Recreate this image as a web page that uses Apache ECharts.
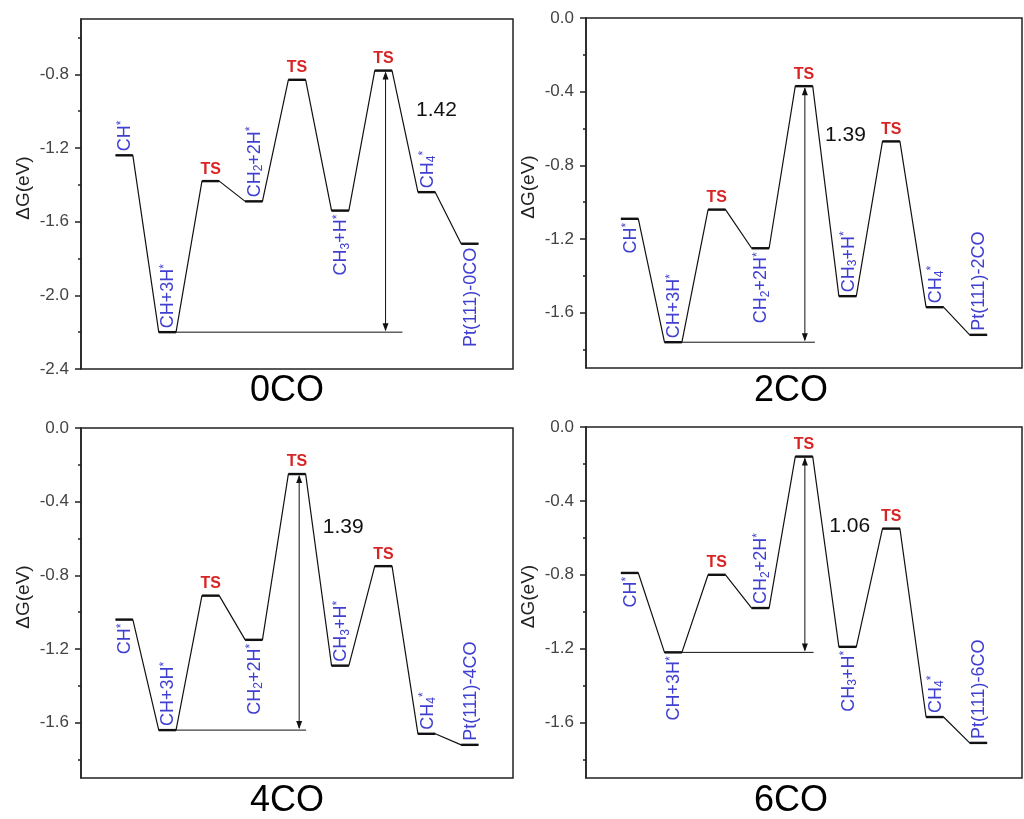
<!DOCTYPE html>
<html><head><meta charset="utf-8">
<script src="https://cdn.jsdelivr.net/npm/echarts@6/dist/echarts.min.js"></script>
<style>html,body{margin:0;padding:0;background:#fff}#c{width:1024px;height:819px}</style>
</head><body><div id="c"></div>
<script>
// ---------------- data ----------------
const panelNames = ['0CO', '2CO', '4CO', '6CO'];
const states = ['CH*', 'CH+3H*', 'TS', 'CH2+2H*', 'TS', 'CH3+H*', 'TS', 'CH4*', 'Pt(111)-'];
const g0CO = [-1.24, -2.20, -1.38, -1.49, -0.83, -1.54, -0.78, -1.44, -1.72];
const g2CO = [-1.09, -1.76, -1.04, -1.25, -0.37, -1.51, -0.67, -1.57, -1.72];
const g4CO = [-1.04, -1.64, -0.91, -1.15, -0.25, -1.29, -0.75, -1.66, -1.72];
const g6CO = [-0.79, -1.22, -0.80, -0.98, -0.16, -1.19, -0.55, -1.57, -1.71];
const barrierText = ['1.42', '1.39', '1.39', '1.06'];
const barrierFrom = [1, 1, 1, 1];
const barrierTo = [6, 4, 4, 4];
const yMin = [-2.4, -1.9, -1.9, -1.9];
const yMax = [-0.5, 0, 0, 0];
const majorTicks0CO = [-2.4, -2.0, -1.6, -1.2, -0.8];
const minorTicks0CO = [-2.2, -1.8, -1.4, -1.0, -0.6];
const majorTicksOther = [-1.6, -1.2, -0.8, -0.4, 0.0];
const minorTicksOther = [-1.8, -1.4, -1.0, -0.6, -0.2];
const yName = 'ΔG(eV)';

// ---------------- layout ----------------
const energies = [g0CO, g2CO, g4CO, g6CO];
const grids = [
  {left: 81, top: 19, width: 432, height: 350},
  {left: 586, top: 18, width: 436, height: 350},
  {left: 81, top: 428, width: 432, height: 350},
  {left: 586, top: 427, width: 436, height: 351}
];
const titleCenters = [[287, 373], [791, 373], [287, 783], [791, 783]];
// side of each species label: u = above level, d = below level (TS handled separately)
const labelSide = [
  ['u', 'u', '', 'u', '', 'd', '', 'u', 'd'],
  ['d', 'u', '', 'd', '', 'u', '', 'u', 'u'],
  ['d', 'u', '', 'd', '', 'u', '', 'u', 'u'],
  ['d', 'd', '', 'u', '', 'd', '', 'u', 'u']
];
const baseEnd = [7.44, 5.25, 5.21, 5.22];
const arrowDX = [0.05, 0.02, 0.05, 0.02];
const barrierPos = [[8.23, -0.995], [5.95, -0.636], [6.07, -0.537], [6.05, -0.538]];
const HALF = 0.2;
const BLUE = '#3f3fd0', RED = '#d82424', INK = '#111';
const FONT = '"Liberation Sans", Arial, sans-serif';

function richName(s) {
  return s.replace(/CH(\d)/g, 'CH{sub|$1}').replace(/\*/g, '{sup|*}');
}

const chart = echarts.init(document.getElementById('c'), null, {renderer: 'canvas'});
const option = {
  backgroundColor: '#fff',
  animation: false,
  title: [], grid: [], xAxis: [], yAxis: [], series: []
};

panelNames.forEach((pn, p) => {
  const e = energies[p];
  const names = states.map((s, i) => i === states.length - 1 ? s + pn : s);
  option.title.push({
    text: pn, left: titleCenters[p][0], top: titleCenters[p][1], textAlign: 'center', padding: 0,
    textStyle: {fontFamily: FONT, fontSize: 36, fontWeight: 'normal', color: '#000'}
  });
  option.grid.push(Object.assign({show: true, borderColor: '#222', borderWidth: 1.5, backgroundColor: 'transparent'}, grids[p]));
  option.xAxis.push({
    type: 'value', gridIndex: p, min: 0, max: 10,
    axisLine: {show: false}, axisTick: {show: false}, axisLabel: {show: false}, splitLine: {show: false}
  });
  const maj = p === 0 ? majorTicks0CO : majorTicksOther;
  const minr = p === 0 ? minorTicks0CO : minorTicksOther;
  option.yAxis.push({
    type: 'value', gridIndex: p, min: yMin[p], max: yMax[p], position: 'left',
    name: yName, nameLocation: 'middle', nameRotate: 90, nameGap: 48,
    nameTextStyle: {fontFamily: FONT, fontSize: 19, color: '#222', padding: [0, 0, 0, 12]},
    axisLine: {show: true, lineStyle: {color: '#222', width: 1.5}},
    axisTick: {show: true, inside: false, length: 6, customValues: maj, lineStyle: {color: '#222', width: 1.5}},
    axisLabel: {show: true, margin: 12, customValues: maj, fontFamily: FONT, fontSize: 17, color: '#444',
      formatter: v => (Math.abs(v) < 1e-9 ? 0 : v).toFixed(1)},
    splitLine: {show: false}
  });
  option.yAxis.push({
    type: 'value', gridIndex: p, min: yMin[p], max: yMax[p], position: 'left', offset: 0,
    axisLine: {show: false},
    axisTick: {show: true, inside: false, length: 3, customValues: minr, lineStyle: {color: '#222', width: 1.5}},
    axisLabel: {show: false}, splitLine: {show: false}
  });
  const yIdx = 2 * p;
  // profile polyline (levels + connectors)
  const prof = [];
  e.forEach((v, i) => { prof.push([i + 1 - HALF, v]); prof.push([i + 1 + HALF, v]); });
  option.series.push({
    type: 'line', xAxisIndex: p, yAxisIndex: yIdx, data: prof, symbol: 'none', silent: true,
    lineStyle: {color: INK, width: 1.2}, z: 2
  });
  // baseline at the lowest intermediate
  const lo = e[barrierFrom[p]], hi = e[barrierTo[p]];
  option.series.push({
    type: 'line', xAxisIndex: p, yAxisIndex: yIdx, symbol: 'none', silent: true,
    data: [[barrierFrom[p] + 1 + HALF, lo], [baseEnd[p], lo]],
    lineStyle: {color: INK, width: 1}, z: 2
  });
  // levels (thick) + labels
  option.series.push({
    type: 'custom', xAxisIndex: p, yAxisIndex: yIdx, silent: true, z: 3,
    data: e.map((v, i) => [i + 1, v]),
    renderItem: (params, api) => {
      const i = params.dataIndex;
      const x = api.value(0), v = api.value(1);
      const a = api.coord([x - HALF, v]), b = api.coord([x + HALF, v]);
      const cx = (a[0] + b[0]) / 2;
      const ch = [{type: 'line', shape: {x1: a[0], y1: a[1], x2: b[0], y2: b[1]},
        style: {stroke: INK, lineWidth: 2.4}}];
      if (names[i] === 'TS') {
        ch.push({type: 'text', x: cx, y: a[1] - 4,
          style: {text: 'TS', fill: RED, fontFamily: FONT, fontSize: 16, fontWeight: 'bold',
            align: 'center', verticalAlign: 'bottom'}});
      } else {
        const up = labelSide[p][i] === 'u';
        ch.push({type: 'text', x: cx + 1, y: up ? a[1] - 4 : a[1] + 4, rotation: Math.PI / 2,
          style: {text: richName(names[i]), fill: BLUE, fontFamily: FONT, fontSize: 18, lineHeight: 20,
            align: up ? 'left' : 'right', verticalAlign: 'middle',
            rich: {
              sub: {fill: BLUE, fontFamily: FONT, fontSize: 12, verticalAlign: 'bottom', lineHeight: 20},
              sup: {fill: BLUE, fontFamily: FONT, fontSize: 12, verticalAlign: 'top', lineHeight: 20}
            }}});
      }
      return {type: 'group', children: ch};
    }
  });
  // barrier double arrow + value
  option.series.push({
    type: 'custom', xAxisIndex: p, yAxisIndex: yIdx, silent: true, z: 4,
    data: [[barrierTo[p] + 1 + arrowDX[p], lo, hi]],
    renderItem: (params, api) => {
      const x = api.value(0);
      const pl = api.coord([x, api.value(1)]), ph = api.coord([x, api.value(2)]);
      const hw = 3, hl = 9;
      const tp = api.coord(barrierPos[p]);
      return {type: 'group', children: [
        {type: 'line', shape: {x1: ph[0], y1: ph[1] + 2, x2: pl[0], y2: pl[1] - 2}, style: {stroke: INK, lineWidth: 1}},
        {type: 'polygon', shape: {points: [[ph[0], ph[1] + 1], [ph[0] - hw, ph[1] + hl], [ph[0] + hw, ph[1] + hl]]}, style: {fill: INK}},
        {type: 'polygon', shape: {points: [[pl[0], pl[1] - 1], [pl[0] - hw, pl[1] - hl], [pl[0] + hw, pl[1] - hl]]}, style: {fill: INK}},
        {type: 'text', x: tp[0], y: tp[1], style: {text: barrierText[p], fill: INK, fontFamily: FONT, fontSize: 21,
          align: 'center', verticalAlign: 'middle'}}
      ]};
    }
  });
});

chart.setOption(option);
</script>
</body></html>
